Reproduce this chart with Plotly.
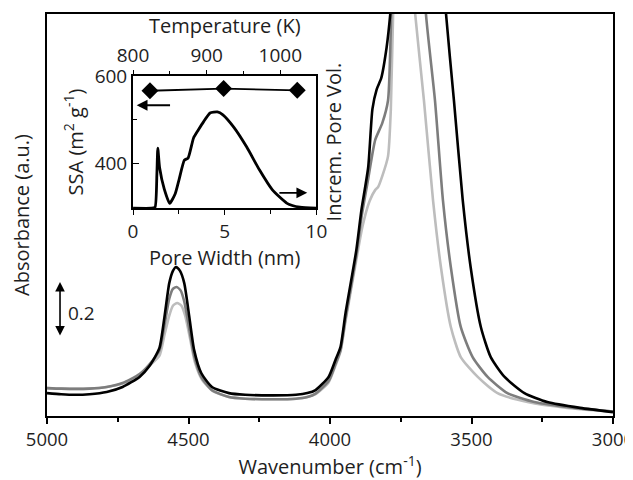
import plotly.graph_objects as go

# ---------------- main spectra ----------------
wn_black = [5000, 4950, 4900, 4850, 4789, 4733, 4673, 4638, 4603, 4585, 4568, 4555, 4544, 4530, 4515, 4497,
            4480, 4455, 4417, 4357, 4300, 4200, 4120, 4080, 4051, 4005, 3981, 3963, 3945, 3907, 3889, 3865,
            3850, 3835, 3819, 3800, 3787, 3760, 3700, 3640, 3610, 3590, 3562, 3531, 3503, 3467, 3432, 3383,
            3313, 3232, 3116, 3000]
abs_black = [0.082, 0.078, 0.076, 0.078, 0.086, 0.104, 0.140, 0.179, 0.243, 0.354, 0.476, 0.52, 0.534, 0.52,
             0.476, 0.354, 0.236, 0.154, 0.104, 0.082, 0.076, 0.074, 0.076, 0.082, 0.093, 0.140, 0.200, 0.247,
             0.369, 0.594, 0.737, 0.891, 1.10, 1.17, 1.21, 1.32, 1.44, 1.8, 2.3, 2.1, 1.75, 1.44, 1.13, 0.773,
             0.533, 0.319, 0.211, 0.140, 0.082, 0.050, 0.029, 0.014]

wn_mid = [5000, 4950, 4900, 4850, 4789, 4733, 4673, 4638, 4603, 4585, 4568, 4555, 4542, 4528, 4515, 4497,
          4480, 4455, 4417, 4357, 4300, 4200, 4120, 4080, 4051, 4005, 3981, 3963, 3945, 3907, 3889, 3865,
          3850, 3840, 3815, 3795, 3786, 3782, 3760, 3720, 3680, 3661, 3629, 3601, 3573, 3538, 3496, 3443,
          3373, 3278, 3137, 3000]
abs_mid = [0.100, 0.098, 0.097, 0.098, 0.104, 0.118, 0.150, 0.185, 0.235, 0.325, 0.420, 0.455, 0.462, 0.450,
           0.410, 0.310, 0.215, 0.140, 0.092, 0.068, 0.062, 0.060, 0.062, 0.068, 0.080, 0.125, 0.185, 0.235,
           0.350, 0.575, 0.710, 0.850, 0.940, 0.990, 1.050, 1.130, 1.350, 1.500, 1.8, 2.1, 1.8, 1.44, 1.13,
           0.773, 0.533, 0.319, 0.211, 0.140, 0.082, 0.050, 0.029, 0.016]

wn_light = [5000, 4950, 4900, 4850, 4789, 4733, 4673, 4638, 4603, 4585, 4568, 4555, 4540, 4525, 4512, 4495,
            4478, 4452, 4415, 4357, 4300, 4200, 4120, 4080, 4051, 4005, 3981, 3963, 3945, 3907, 3885, 3860,
            3840, 3830, 3815, 3795, 3785, 3777, 3760, 3740, 3710, 3699, 3668, 3636, 3608, 3573, 3538, 3478,
            3408, 3302, 3162, 3000]
abs_light = [0.100, 0.098, 0.097, 0.098, 0.104, 0.116, 0.146, 0.180, 0.215, 0.290, 0.360, 0.395, 0.405, 0.395,
             0.360, 0.280, 0.195, 0.130, 0.090, 0.068, 0.062, 0.060, 0.062, 0.068, 0.078, 0.120, 0.180, 0.230,
             0.340, 0.560, 0.680, 0.770, 0.810, 0.820, 0.860, 0.930, 1.100, 1.440, 1.8, 2.0, 1.6, 1.44, 1.13,
             0.773, 0.533, 0.319, 0.211, 0.140, 0.082, 0.050, 0.029, 0.016]

wn_ticks = [5000, 4500, 4000, 3500, 3000]

# ---------------- inset ----------------
temperature_K = [823, 923, 1023]
ssa = [566, 571, 567]
temp_ticks = [800, 900, 1000]
ssa_ticks = [400, 600]

pore_width = [0.0, 1.0, 1.2, 1.3, 1.35, 1.45, 1.7, 2.0, 2.3, 2.5, 2.8, 3.0, 3.3, 3.55, 3.85, 4.2, 4.6, 4.9,
              5.5, 6.2, 6.9, 7.6, 8.4, 9.1, 10.0]
pore_vol = [0.0, 0.0, 0.01, 0.35, 0.625, 0.42, 0.2, 0.05, 0.15, 0.29, 0.50, 0.52, 0.73, 0.81, 0.90, 0.99, 1.0,
            0.97, 0.84, 0.635, 0.396, 0.19, 0.05, 0.01, 0.0]
pore_ticks = [0, 5, 10]

FONT = "Open Sans"
TXT = "#1e1e1e"


def tfont(size=19):
    return dict(family=FONT, size=size, color=TXT)


fig = go.Figure()
for wn, ab, col in [(wn_light, abs_light, "#bdbdbd"), (wn_mid, abs_mid, "#7d7d7d"), (wn_black, abs_black, "#000000")]:
    fig.add_trace(go.Scatter(x=wn, y=ab, mode="lines", line=dict(color=col, width=2.6, shape="spline", smoothing=0.6),
                             xaxis="x", yaxis="y", showlegend=False, hoverinfo="skip"))

# pore size distribution on the base inset subplot (x2, y2)
fig.add_trace(go.Scatter(x=pore_width, y=pore_vol, mode="lines",
                         line=dict(color="black", width=2.8, shape="spline", smoothing=0.5),
                         xaxis="x2", yaxis="y2", showlegend=False))
# SSA vs temperature on the overlaid subplot (x3, y3)
fig.add_trace(go.Scatter(x=temperature_K, y=ssa, mode="lines+markers",
                         line=dict(color="black", width=1.8),
                         marker=dict(symbol="diamond", size=13, color="black"),
                         xaxis="x3", yaxis="y3", showlegend=False))

axis_common = dict(showline=True, linecolor="black", linewidth=2, showgrid=False, zeroline=False,
                   tickcolor="black", tickfont=tfont(19), automargin=False)

# the page adds an 8 px body margin, so the figure is 8 px smaller and margins shifted
fig.update_layout(
    width=625, height=472,
    margin=dict(l=39, r=20, t=6, b=64),
    paper_bgcolor="white", plot_bgcolor="white",
    font=tfont(19),
    xaxis=dict(**{**axis_common, "tickfont": tfont(18.5)}, domain=[0, 1], range=[5000, 3000], mirror=True,
               ticks="outside", ticklen=6, tickwidth=1.5, tickvals=wn_ticks, ticklabeloverflow="allow",
               minor=dict(ticks="outside", ticklen=4, dtick=250, tickcolor="black"),
               title=dict(text="Wavenumber (cm<sup>-1</sup>)", font=tfont(20), standoff=4)),
    yaxis=dict(**axis_common, domain=[0, 1], range=[0, 1.44], mirror=True, ticks="", showticklabels=False,
               title=dict(text="Absorbance (a.u.)", font=tfont(20), standoff=10)),
    xaxis2=dict(**axis_common, domain=[0.152, 0.476], range=[0, 10], anchor="y2", ticks="outside", ticklen=5,
                tickvals=pore_ticks, ticklabeloverflow="allow",
                minor=dict(ticks="outside", ticklen=4, tickvals=[2.5, 7.5], tickcolor="black"),
                title=dict(text="Pore Width (nm)", font=tfont(20), standoff=0)),
    xaxis3=dict(**axis_common, range=[800, 1049], anchor="y2", overlaying="x2", side="top", ticks="outside",
                ticklen=4, tickvals=temp_ticks, ticklabeloverflow="allow",
                minor=dict(ticks="outside", ticklen=3, tickvals=[850, 950], tickcolor="black")),
    yaxis2=dict(**axis_common, domain=[0.517, 0.846], range=[0, 1.375], anchor="x2", side="right", ticks="",
                showticklabels=False,
                title=dict(text="Increm. Pore Vol.", font=tfont(20), standoff=10)),
    yaxis3=dict(**axis_common, range=[297, 600], anchor="x2", overlaying="y2", side="left", ticks="inside",
                ticklen=6, tickvals=ssa_ticks, ticklabeloverflow="allow",
                minor=dict(ticks="inside", ticklen=4, tickvals=[500], tickcolor="black"),
                title=dict(text="SSA (m<sup>2</sup> g<sup>-1</sup>)", font=tfont(20), standoff=6)),
)

# inset top-axis title
fig.add_annotation(x=0.314, y=0.972, xref="paper", yref="paper", text="Temperature (K)", showarrow=False,
                   font=tfont(20), xanchor="center", yanchor="middle")

# scale bar
fig.add_annotation(x=4954, y=0.48, ax=4954, ay=0.283, xref="x", yref="y", axref="x", ayref="y", text="",
                   showarrow=True, arrowhead=2, arrowside="end+start", arrowsize=1.2, arrowwidth=1.6,
                   arrowcolor="black")
fig.add_annotation(x=4877, y=0.37, xref="x", yref="y", text="0.2", showarrow=False, font=tfont(19))
# inset pointer arrows (left -> SSA axis, right -> pore volume axis)
fig.add_annotation(x=0.2, y=1.07, ax=2.1, ay=1.07, xref="x2", yref="y2", axref="x2", ayref="y2", text="",
                   showarrow=True, arrowhead=2, arrowsize=1.2, arrowwidth=1.8, arrowcolor="black")
fig.add_annotation(x=9.5, y=0.16, ax=7.9, ay=0.16, xref="x2", yref="y2", axref="x2", ayref="y2", text="",
                   showarrow=True, arrowhead=2, arrowsize=1.2, arrowwidth=1.8, arrowcolor="black")

fig.write_html("out.html")
